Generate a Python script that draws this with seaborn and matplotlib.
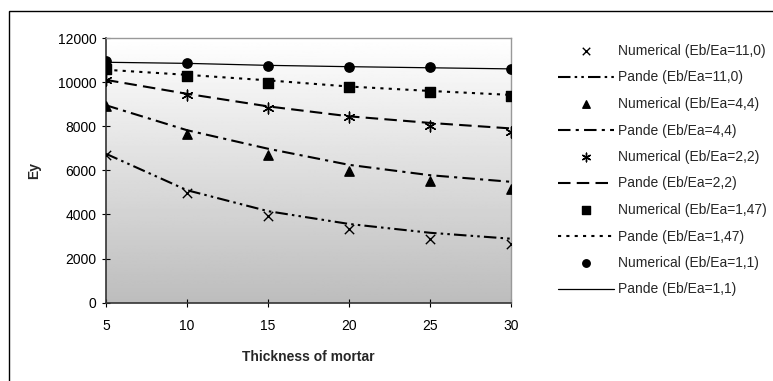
import numpy as np
import pandas as pd
import matplotlib
matplotlib.use("Agg")
import matplotlib.pyplot as plt
import seaborn as sns
from matplotlib.patches import Rectangle


# DATA

thickness = [5, 10, 15, 20, 25, 30]

num_11_0 = [6700, 4960, 3930, 3330, 2880, 2650]
pande_11_0 = [6750, 5100, 4150, 3570, 3170, 2900]

num_4_4 = [8900, 7650, 6700, 5980, 5520, 5140]
pande_4_4 = [8950, 7820, 6980, 6250, 5780, 5480]

num_2_2 = [10100, 9400, 8820, 8400, 8010, 7760]
pande_2_2 = [10100, 9470, 8900, 8450, 8150, 7900]

num_1_47 = [10600, 10280, 9970, 9770, 9540, 9390]
pande_1_47 = [10560, 10330, 10080, 9800, 9600, 9420]

num_1_1 = [10950, 10850, 10740, 10670, 10670, 10600]
pande_1_1 = [10900, 10850, 10760, 10700, 10650, 10600]

ratios = ["11,0", "4,4", "2,2", "1,47", "1,1"]


# STYLE

sns.set_theme(style="white")
plt.rcParams["font.family"] = ["Liberation Sans", "DejaVu Sans"]

fig = plt.figure(figsize=(7.73, 3.81), dpi=100)
ax = fig.add_axes([106 / 773, 1 - 302.7 / 381, 405 / 773, 264.7 / 381])

# gradient background
grad = np.linspace(0.74, 1.0, 256).reshape(-1, 1)
ax.imshow(grad, extent=[0, 1, 0, 1], transform=ax.transAxes, cmap="gray",
          vmin=0, vmax=1, aspect="auto", origin="lower", zorder=0)

numerical = [num_11_0, num_4_4, num_2_2, num_1_47, num_1_1]
pande = [pande_11_0, pande_4_4, pande_2_2, pande_1_47, pande_1_1]
markers = ["x", "^", (6, 2, 0), "s", "o"]
marker_sizes = [45, 45, 60, 45, 45]
dash_styles = [(0, (6, 2, 1.2, 2, 1.2, 2)),
               (0, (6, 2.5, 1.5, 2.5)),
               (0, (6, 3)),
               (0, (1.5, 2.5)),
               "-"]
line_widths = [1.5, 1.5, 1.5, 1.5, 0.9]

for i, r in enumerate(ratios):
    df_num = pd.DataFrame({"x": thickness, "y": numerical[i]})
    df_pan = pd.DataFrame({"x": thickness, "y": pande[i]})
    sns.scatterplot(data=df_num, x="x", y="y", ax=ax, marker=markers[i],
                    s=marker_sizes[i], color="black", edgecolor="black",
                    linewidth=1.0, label=f"Numerical (Eb/Ea={r})", zorder=4)
    sns.lineplot(data=df_pan, x="x", y="y", ax=ax, color="black",
                 linestyle=dash_styles[i], linewidth=line_widths[i],
                 label=f"Pande (Eb/Ea={r})", zorder=3)

ax.set_xlim(5, 30)
ax.set_ylim(0, 12000)
ax.set_xticks([5, 10, 15, 20, 25, 30])
ax.set_yticks(range(0, 12001, 2000))
ax.tick_params(axis="both", direction="inout", length=6, width=0.8,
               labelsize=10, colors="black", bottom=True, left=True)
ax.tick_params(axis="x", pad=9)
ax.tick_params(axis="y", pad=4)

for side in ["left", "bottom"]:
    ax.spines[side].set_color("#333333")
    ax.spines[side].set_linewidth(1.2)
for side in ["top", "right"]:
    ax.spines[side].set_color("#999999")
    ax.spines[side].set_linewidth(1.0)

ax.set_xlabel("Thickness of mortar", fontsize=10, fontweight="bold", labelpad=12)
ax.set_ylabel("Ey", fontsize=10, fontweight="bold", labelpad=12)

leg = ax.legend(loc="upper left", bbox_to_anchor=(558 / 773, 1 - 44 / 381),
                bbox_transform=fig.transFigure, frameon=False, fontsize=10,
                labelspacing=0.9, handlelength=4.0, handletextpad=0.3,
                borderaxespad=0, borderpad=0, markerscale=0.8)

# outer frame
fig.patches.append(Rectangle((9 / 773, -0.1), 1.2, 1.1 - 11 / 381,
                             transform=fig.transFigure, fill=False,
                             edgecolor="black", linewidth=1.0))

plt.savefig("out.png", dpi=100)
plt.close()
